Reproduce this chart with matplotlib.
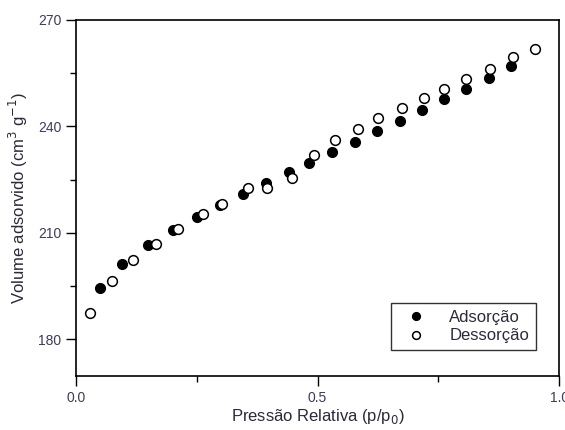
import matplotlib
matplotlib.use("Agg")
from matplotlib import pyplot as plt

# dados (isoterma de adsorcao / dessorcao)
p_ads = [0.049, 0.096, 0.149, 0.201, 0.251, 0.299, 0.345, 0.394, 0.441, 0.483,
         0.530, 0.578, 0.624, 0.670, 0.716, 0.762, 0.808, 0.854, 0.901]
v_ads = [194.6, 201.4, 206.5, 210.8, 214.6, 217.9, 221.0, 224.2, 227.2, 229.8,
         232.7, 235.7, 238.8, 241.6, 244.6, 247.7, 250.6, 253.7, 257.1]

p_des = [0.030, 0.074, 0.119, 0.165, 0.211, 0.263, 0.302, 0.356, 0.395, 0.447,
         0.492, 0.536, 0.583, 0.625, 0.675, 0.720, 0.762, 0.808, 0.858, 0.904, 0.951]
v_des = [187.5, 196.5, 202.4, 206.8, 211.0, 215.4, 218.3, 222.7, 222.6, 225.4,
         232.0, 236.2, 239.4, 242.4, 245.2, 248.0, 250.5, 253.3, 256.3, 259.6, 261.8]

plt.rcParams['font.family'] = ['Liberation Sans', 'DejaVu Sans']

fig = plt.figure(figsize=(5.65, 4.30), dpi=100)
ax = fig.add_axes([0.1345, 0.1255, 0.855, 0.828])

ax.plot(p_ads, v_ads, 'o', color='black', markersize=7, label='Adsorção')
ax.plot(p_des, v_des, 'o', markerfacecolor='white', markeredgecolor='black',
        markeredgewidth=1.1, markersize=7, label='Dessorção')

ax.set_xlim(0.0, 1.0)
ax.set_ylim(169.7, 270)
ax.set_xticks([0.0, 0.5, 1.0])
ax.set_xticks([0.25, 0.75], minor=True)
ax.set_yticks([180, 210, 240, 270])
ax.set_yticks([195, 225, 255], minor=True)

tick_color = '#3c3c5a'
ax.tick_params(which='major', direction='out', length=7, width=1, labelsize=10,
               labelcolor=tick_color, top=False, right=False)
ax.tick_params(which='minor', direction='out', length=4, width=1, top=False, right=False)
for s in ax.spines.values():
    s.set_linewidth(1.2)

ax.set_xlabel('Pressão Relativa (p/p$_0$)', fontsize=12, color='#2a2a3a', labelpad=2)
ax.set_ylabel('Volume adsorvido (cm$^3$ g$^{-1}$)', fontsize=12, color='#2a2a3a', labelpad=6)

leg = ax.legend(loc='lower right', bbox_to_anchor=(0.952, 0.073), fontsize=12,
                frameon=True, fancybox=False, edgecolor='black', handletextpad=0.9,
                borderpad=0.4, labelspacing=0.2, handlelength=2.2, markerscale=0.8,
                borderaxespad=0)
leg.get_frame().set_linewidth(1.0)
for t in leg.get_texts():
    t.set_color('#2a2a3a')

fig.savefig('out.png', dpi=100)
